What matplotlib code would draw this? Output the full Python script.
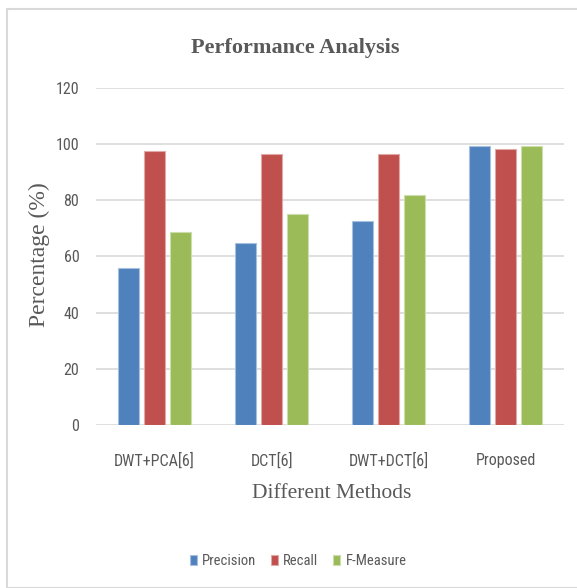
import matplotlib
matplotlib.use("Agg")
import matplotlib.pyplot as plt
import numpy as np
from matplotlib import font_manager
from matplotlib.patches import Rectangle

methods = ["DWT+PCA[6]", "DCT[6]", "DWT+DCT[6]", "Proposed"]
precision = [55.8, 64.7, 72.6, 99.2]
recall = [97.6, 96.4, 96.4, 98.3]
f_measure = [68.8, 75.1, 81.9, 99.2]
series_names = ["Precision", "Recall", "F-Measure"]
yticks = [0, 20, 40, 60, 80, 100, 120]

colors = ["#4F81BD", "#C0504D", "#9BBB59"]
edges = ["#A7C0DE", "#E0A8A6", "#CDDDAC"]
text_gray = "#595959"

available = {f.name for f in font_manager.fontManager.ttflist}


def pick(*names):
    for n in names:
        if n in available:
            return n
    return "DejaVu Sans"


narrow = pick("Roboto Condensed", "PT Sans Narrow", "Open Sans Condensed", "Carlito")
serif = pick("Liberation Serif", "DejaVu Serif")

W, H = 577, 588
fig = plt.figure(figsize=(W / 100, H / 100), dpi=100)
fig.patch.set_facecolor("white")

# outer chart frame
fig.patches.append(Rectangle((7 / W, 0), 1.2, (H - 9) / H, transform=fig.transFigure,
                             fill=False, edgecolor="#D9D9D9", linewidth=1.5))

ax = fig.add_axes([96 / W, (H - 425) / H, (564 - 96) / W, (425 - 88) / H])
x = np.arange(len(methods))
width = 0.18
offset = 0.226
for i, (vals, name) in enumerate(zip([precision, recall, f_measure], series_names)):
    ax.bar(x + (i - 1) * offset, vals, width, color=colors[i], edgecolor=edges[i],
           linewidth=0.8, label=name, zorder=3)

ax.set_xlim(-0.5, len(methods) - 0.5)
ax.set_ylim(0, 120)
ax.set_yticks(yticks)
ax.yaxis.grid(True, color="#D9D9D9", linewidth=1.2, zorder=0)
ax.set_axisbelow(True)
for s in ["top", "right", "left", "bottom"]:
    ax.spines[s].set_visible(False)
ax.tick_params(axis="both", length=0, colors=text_gray)
ax.tick_params(axis="y", pad=12)
ax.tick_params(axis="x", pad=20)
ax.set_xticks(x)
ax.set_xticklabels(methods, fontfamily=narrow, fontsize=11.5, color=text_gray)
for lab in ax.get_yticklabels():
    lab.set_fontfamily(narrow)
    lab.set_fontsize(11.5)
    lab.set_color(text_gray)

fig.text(295 / W, 1 - 48 / H, "Performance Analysis", ha="center", va="center",
         fontfamily=serif, fontweight="bold", fontsize=16, color=text_gray)
fig.text(39 / W, 1 - 255 / H, "Percentage (%)", ha="center", va="center", rotation=90,
         fontfamily=serif, fontsize=17, color=text_gray)
fig.text(332 / W, 1 - 494 / H, "Different Methods", ha="center", va="center",
         fontfamily=serif, fontsize=15.5, color=text_gray)

handles, labels = ax.get_legend_handles_labels()
fig.legend(handles, labels, loc="center", bbox_to_anchor=(298 / W, 1 - 561 / H), ncol=3,
           frameon=False, prop={"family": narrow, "size": 10.5}, labelcolor=text_gray,
           handlelength=0.5, handleheight=0.7, handletextpad=0.35, columnspacing=1.0)

fig.savefig("out.png", dpi=100, facecolor="white")
